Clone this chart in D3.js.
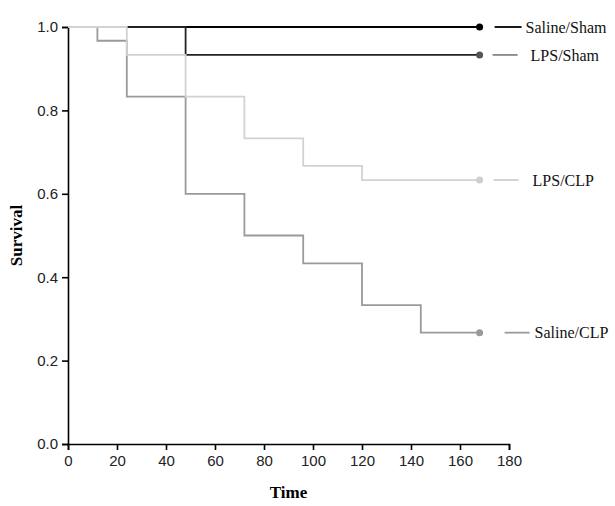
<!DOCTYPE html>
<html>
<head>
<meta charset="utf-8">
<script src="https://cdn.jsdelivr.net/npm/d3@7"></script>
<style>
  body { margin: 0; background: #fff; }
  .tick text { font-family: "Liberation Sans", Arial, sans-serif; font-size: 15px; fill: #222; }
  .axis-title { font-family: "Liberation Serif", "Times New Roman", serif; font-weight: bold; font-size: 17px; }
  .legend-label { font-family: "Liberation Serif", "Times New Roman", serif; font-size: 16px; fill: #111; }
</style>
</head>
<body>
<svg class="km-chart" width="615" height="506"></svg>
<script>
// x ticks (hours) and y ticks (survival fraction)
const timeTicks = [0, 20, 40, 60, 80, 100, 120, 140, 160, 180];
const survivalTicks = [0.0, 0.2, 0.4, 0.6, 0.8, 1.0];

// step points: time and survival after each step
const salineShamTime = [0, 168];
const salineShamSurv = [1, 1];

const lpsShamTime = [0, 48, 168];
const lpsShamSurv = [1, 0.933, 0.933];

const lpsClpTime = [0, 24, 48, 72, 96, 120, 168];
const lpsClpSurv = [1, 0.933, 0.833, 0.733, 0.667, 0.633, 0.633];

const salineClpTime = [0, 12, 24, 48, 72, 96, 120, 144, 168];
const salineClpSurv = [1, 0.967, 0.833, 0.6, 0.5, 0.433, 0.333, 0.267, 0.267];

// drawing order: later series sit on top
const series = [
  { name: "Saline/CLP", time: salineClpTime, surv: salineClpSurv, line: "#9a9a9a", dot: "#9a9a9a", key: "#9a9a9a", keyX: [25, 50], textX: 55 },
  { name: "Saline/Sham", time: salineShamTime, surv: salineShamSurv, line: "#000", dot: "#000", key: "#000", keyX: [15, 42], textX: 46 },
  { name: "LPS/Sham", time: lpsShamTime, surv: lpsShamSurv, line: "#222", dot: "#555", key: "#888", keyX: [13, 38], textX: 51 },
  { name: "LPS/CLP", time: lpsClpTime, surv: lpsClpSurv, line: "#d2d2d2", dot: "#cfcfcf", key: "#cfcfcf", keyX: [14, 39], textX: 53 },
];

const svg = d3.select(".km-chart");

const x = d3.scaleLinear().domain([0, 180]).range([68, 509]);
const y = d3.scaleLinear().domain([0, 1]).range([444, 27]);

// axes
svg.append("g")
  .attr("transform", `translate(0,${y(0)})`)
  .call(d3.axisBottom(x).tickValues(timeTicks).tickSize(6).tickPadding(5).tickFormat(d3.format("d")))
  .call((g) => g.selectAll(".domain, line").attr("stroke", "#000").attr("stroke-width", 1.6));

svg.append("g")
  .attr("transform", `translate(${x(0)},0)`)
  .call(d3.axisLeft(y).tickValues(survivalTicks).tickSize(6).tickPadding(4).tickFormat(d3.format(".1f")))
  .call((g) => g.selectAll(".domain, line").attr("stroke", "#000").attr("stroke-width", 1.6));

// axis titles
svg.append("text")
  .attr("class", "axis-title")
  .attr("text-anchor", "middle")
  .attr("x", (x(0) + x(180)) / 2)
  .attr("y", 498)
  .text("Time");

svg.append("text")
  .attr("class", "axis-title")
  .attr("text-anchor", "middle")
  .attr("transform", `translate(22,${(y(0) + y(1)) / 2}) rotate(-90)`)
  .text("Survival");

// survival curves
const line = d3.line()
  .x((d) => x(d.t))
  .y((d) => y(d.s))
  .curve(d3.curveStepAfter);

series.forEach((s) => {
  const pts = s.time.map((t, i) => ({ t, s: s.surv[i] }));
  const last = pts[pts.length - 1];

  svg.append("path")
    .datum(pts)
    .attr("fill", "none")
    .attr("stroke", s.line)
    .attr("stroke-width", 1.8)
    .attr("d", line);

  svg.append("circle")
    .attr("cx", x(last.t))
    .attr("cy", y(last.s))
    .attr("r", 3.5)
    .attr("fill", s.dot);

  // legend key next to each curve end
  svg.append("line")
    .attr("x1", x(last.t) + s.keyX[0])
    .attr("x2", x(last.t) + s.keyX[1])
    .attr("y1", y(last.s))
    .attr("y2", y(last.s))
    .attr("stroke", s.key)
    .attr("stroke-width", 1.8);

  svg.append("text")
    .attr("class", "legend-label")
    .attr("x", x(last.t) + s.textX)
    .attr("y", y(last.s))
    .attr("dy", "0.35em")
    .text(s.name);
});
</script>
</body>
</html>
